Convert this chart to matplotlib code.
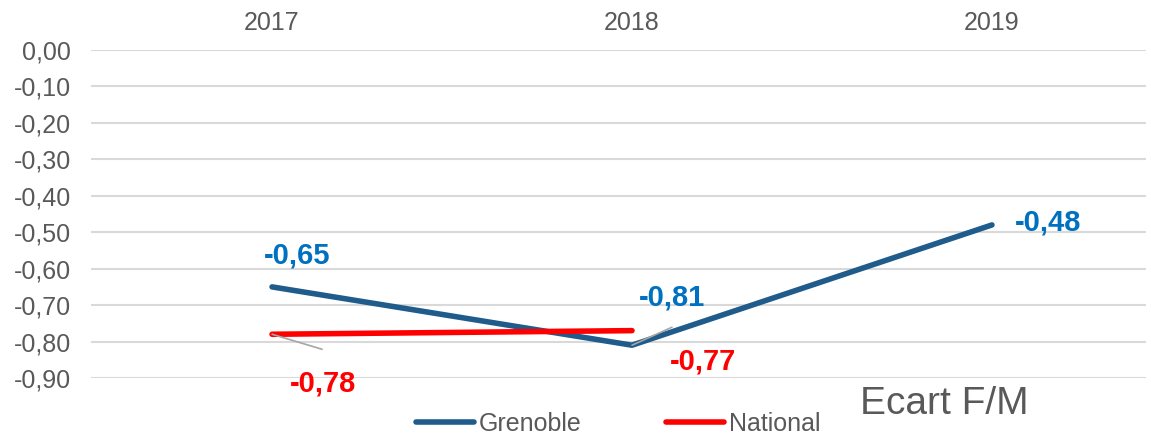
import matplotlib
matplotlib.use("Agg")
import matplotlib.pyplot as plt
from matplotlib.ticker import FuncFormatter

years = ["2017", "2018", "2019"]
grenoble = [-0.65, -0.81, -0.48]
national = [-0.78, -0.77]
grenoble_labels = ["-0,65", "-0,81", "-0,48"]
national_labels = ["-0,78", "-0,77"]
yticks = [0.0, -0.1, -0.2, -0.3, -0.4, -0.5, -0.6, -0.7, -0.8, -0.9]

plt.rcParams['font.family'] = ['Liberation Sans', 'DejaVu Sans']

W, H = 1151, 437
fig = plt.figure(figsize=(W / 100, H / 100), dpi=100)
ax = fig.add_axes([91 / W, (H - 378) / H, (1146 - 91) / W, 328 / H])

x = list(range(len(years)))
blue = '#1F5C8B'
red = '#FF0000'
lblue = '#0070C0'
grey = '#595959'

ax.plot(x, grenoble, color=blue, lw=4, solid_capstyle='round', label='Grenoble', zorder=3)
ax.plot(x[:len(national)], national, color=red, lw=4, solid_capstyle='round', label='National', zorder=4)

ax.set_xlim(-0.503, 2.428)
ax.set_ylim(-0.9, 0.0)
ax.set_yticks(yticks)
ax.yaxis.set_major_formatter(FuncFormatter(lambda v, p: f"{v:.2f}".replace('.', ',').replace('-0,00', '0,00')))
ax.set_xticks(x)
ax.set_xticklabels(years)
ax.xaxis.tick_top()
ax.tick_params(axis='x', length=0, pad=11, labelsize=18, labelcolor=grey)
ax.tick_params(axis='y', length=0, pad=14.5, labelsize=18, labelcolor=grey)
ax.grid(axis='y', color='#D9D9D9', lw=1.5)
ax.set_axisbelow(True)
for s in ax.spines.values():
    s.set_visible(False)

k = 0.72  # px -> pt
g_off = [(25, 31), (40, 48), (56, 2)]
n_off = [(51, -49), (71, -31)]
for i, (v, t) in enumerate(zip(grenoble, grenoble_labels)):
    dx, dy = g_off[i]
    ax.annotate(t, (x[i], v), xytext=(dx * k, dy * k), textcoords='offset points',
                ha='center', va='center', fontsize=21, fontweight='bold', color=lblue, zorder=5)
for i, (v, t) in enumerate(zip(national, national_labels)):
    dx, dy = n_off[i]
    ax.annotate(t, (x[i], v), xytext=(dx * k, dy * k), textcoords='offset points',
                ha='center', va='center', fontsize=21, fontweight='bold', color=red, zorder=5)

# leader lines
ax.annotate('', (x[0], national[0]), xytext=(50 * k, -15 * k), textcoords='offset points',
            arrowprops=dict(arrowstyle='-', color='#A6A6A6', lw=1.2, shrinkA=0, shrinkB=0), zorder=5)
ax.annotate('', (x[1], grenoble[1]), xytext=(40 * k, 18 * k), textcoords='offset points',
            arrowprops=dict(arrowstyle='-', color='#A6A6A6', lw=1.2, shrinkA=0, shrinkB=0), zorder=5)

handles, labels = ax.get_legend_handles_labels()
leg = fig.legend(handles, labels, loc='center left', bbox_to_anchor=(416 / W, (H - 424) / H),
                 ncol=2, frameon=False, fontsize=18, handlelength=2.3, handletextpad=0.2,
                 columnspacing=3.4, borderpad=0, borderaxespad=0)
for t in leg.get_texts():
    t.set_color(grey)

fig.text(860 / W, (H - 404) / H, "Ecart F/M", fontsize=28, color=grey, ha='left', va='center')

fig.savefig("out.png", dpi=100)
